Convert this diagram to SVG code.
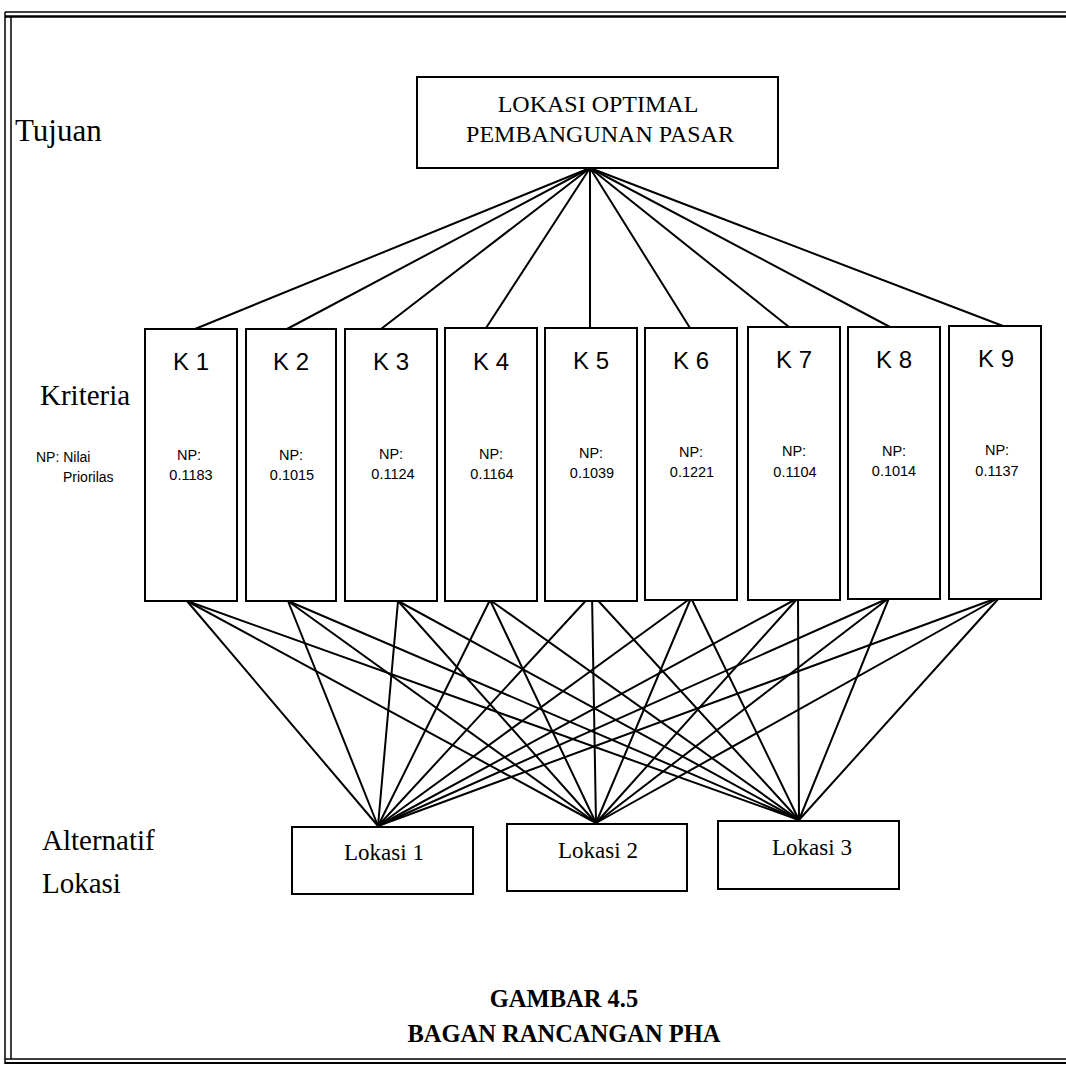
<svg xmlns="http://www.w3.org/2000/svg" width="1066" height="1084" viewBox="0 0 1066 1084">
<style>
.box{fill:#fff;stroke:#000;stroke-width:2}
.ser{font-family:"Liberation Serif","Times New Roman",serif;fill:#000}
.san{font-family:"Liberation Sans",Arial,sans-serif;fill:#000}
.k{font-size:24px;text-anchor:middle}
.np{font-size:14.5px;text-anchor:middle}
.lbl{font-size:29px}
.loc{font-size:23px;text-anchor:middle}
.ttl{font-size:24.5px;font-weight:bold;text-anchor:middle}
.con line{stroke:#000;stroke-width:2;stroke-linecap:round}
.frame line{stroke:#000}
</style>
<rect width="1066" height="1084" fill="#fff"/>
<g id="frame" class="frame">
<line x1="5" y1="12" x2="1066" y2="12" stroke-width="1.5"/>
<line x1="5" y1="16.5" x2="1066" y2="16.5" stroke-width="2.5"/>
<line x1="5" y1="12" x2="5" y2="1064" stroke-width="1.5"/>
<line x1="11" y1="16" x2="11" y2="1059" stroke-width="1.5"/>
<line x1="5" y1="1059" x2="1066" y2="1059" stroke-width="1.5"/>
<line x1="5" y1="1063" x2="1066" y2="1063" stroke-width="2"/>
</g>
<g id="level-labels">
<text class="ser" font-size="31" x="15" y="141">Tujuan</text>
<text class="ser lbl" x="40" y="405">Kriteria</text>
<text class="san" font-size="14" x="36" y="462">NP: Nilai</text>
<text class="san" font-size="14" x="63" y="482">Priorilas</text>
<text class="ser lbl" x="42" y="850">Alternatif</text>
<text class="ser lbl" x="42" y="893">Lokasi</text>
</g>
<g id="connectors" class="con">
<line x1="590" y1="168" x2="195" y2="329"/>
<line x1="590" y1="168" x2="287" y2="329"/>
<line x1="590" y1="168" x2="381" y2="329"/>
<line x1="590" y1="168" x2="486" y2="328"/>
<line x1="590" y1="168" x2="590" y2="328"/>
<line x1="590" y1="168" x2="690" y2="328"/>
<line x1="590" y1="168" x2="789" y2="327"/>
<line x1="590" y1="168" x2="890" y2="327"/>
<line x1="590" y1="168" x2="1003" y2="326"/>
<line x1="187" y1="601" x2="378" y2="826"/>
<line x1="187" y1="601" x2="596" y2="823"/>
<line x1="187" y1="601" x2="799" y2="820"/>
<line x1="288" y1="601" x2="378" y2="826"/>
<line x1="288" y1="601" x2="596" y2="823"/>
<line x1="288" y1="601" x2="799" y2="820"/>
<line x1="398" y1="601" x2="378" y2="826"/>
<line x1="398" y1="601" x2="596" y2="823"/>
<line x1="398" y1="601" x2="799" y2="820"/>
<line x1="490" y1="600" x2="378" y2="826"/>
<line x1="490" y1="600" x2="596" y2="823"/>
<line x1="490" y1="600" x2="799" y2="820"/>
<line x1="592" y1="594" x2="378" y2="826"/>
<line x1="592" y1="594" x2="596" y2="823"/>
<line x1="592" y1="594" x2="799" y2="820"/>
<line x1="691" y1="598" x2="378" y2="826"/>
<line x1="691" y1="598" x2="596" y2="823"/>
<line x1="691" y1="598" x2="799" y2="820"/>
<line x1="798" y1="598" x2="378" y2="826"/>
<line x1="798" y1="598" x2="596" y2="823"/>
<line x1="798" y1="598" x2="799" y2="820"/>
<line x1="889" y1="598" x2="378" y2="826"/>
<line x1="889" y1="598" x2="596" y2="823"/>
<line x1="889" y1="598" x2="799" y2="820"/>
<line x1="1000" y1="597" x2="378" y2="826"/>
<line x1="1000" y1="597" x2="596" y2="823"/>
<line x1="1000" y1="597" x2="799" y2="820"/>
</g>
<g id="goal">
<rect class="box" x="417" y="77" width="361" height="91"/>
<text class="ser" font-size="24" text-anchor="middle" x="598" y="112">LOKASI OPTIMAL</text>
<text class="ser" font-size="24" text-anchor="middle" x="600" y="142">PEMBANGUNAN PASAR</text>
</g>
<g id="k1"><rect class="box" x="145" y="329" width="92" height="272"/><text class="san k" x="191" y="370">K 1</text><text class="san np" x="189" y="460">NP:</text><text class="san np" x="191" y="480">0.1183</text></g>
<g id="k2"><rect class="box" x="246" y="329" width="90" height="272"/><text class="san k" x="291" y="370">K 2</text><text class="san np" x="291" y="460">NP:</text><text class="san np" x="292" y="480">0.1015</text></g>
<g id="k3"><rect class="box" x="345" y="329" width="92" height="272"/><text class="san k" x="391" y="370">K 3</text><text class="san np" x="391" y="459">NP:</text><text class="san np" x="393" y="479">0.1124</text></g>
<g id="k4"><rect class="box" x="445" y="328" width="92" height="273"/><text class="san k" x="491" y="370">K 4</text><text class="san np" x="491" y="459">NP:</text><text class="san np" x="492" y="479">0.1164</text></g>
<g id="k5"><rect class="box" x="545" y="328" width="92" height="273"/><text class="san k" x="591" y="369">K 5</text><text class="san np" x="591" y="458">NP:</text><text class="san np" x="592" y="478">0.1039</text></g>
<g id="k6"><rect class="box" x="645" y="328" width="92" height="272"/><text class="san k" x="691" y="369">K 6</text><text class="san np" x="691" y="457">NP:</text><text class="san np" x="692" y="477">0.1221</text></g>
<g id="k7"><rect class="box" x="748" y="327" width="92" height="273"/><text class="san k" x="794" y="368">K 7</text><text class="san np" x="794" y="456">NP:</text><text class="san np" x="795" y="477">0.1104</text></g>
<g id="k8"><rect class="box" x="848" y="327" width="92" height="272"/><text class="san k" x="894" y="368">K 8</text><text class="san np" x="894" y="456">NP:</text><text class="san np" x="894" y="476">0.1014</text></g>
<g id="k9"><rect class="box" x="949" y="326" width="92" height="273"/><text class="san k" x="996" y="367">K 9</text><text class="san np" x="997" y="455">NP:</text><text class="san np" x="997" y="476">0.1137</text></g>
<g id="lokasi1"><rect class="box" x="292" y="827" width="181" height="67"/><text class="ser loc" x="384" y="860">Lokasi 1</text></g>
<g id="lokasi2"><rect class="box" x="507" y="824" width="180" height="67"/><text class="ser loc" x="598" y="858">Lokasi 2</text></g>
<g id="lokasi3"><rect class="box" x="718" y="821" width="181" height="68"/><text class="ser loc" x="812" y="855">Lokasi 3</text></g>
<g id="caption">
<text class="ser ttl" x="564" y="1007">GAMBAR 4.5</text>
<text class="ser ttl" x="564" y="1042">BAGAN RANCANGAN PHA</text>
</g>
</svg>
